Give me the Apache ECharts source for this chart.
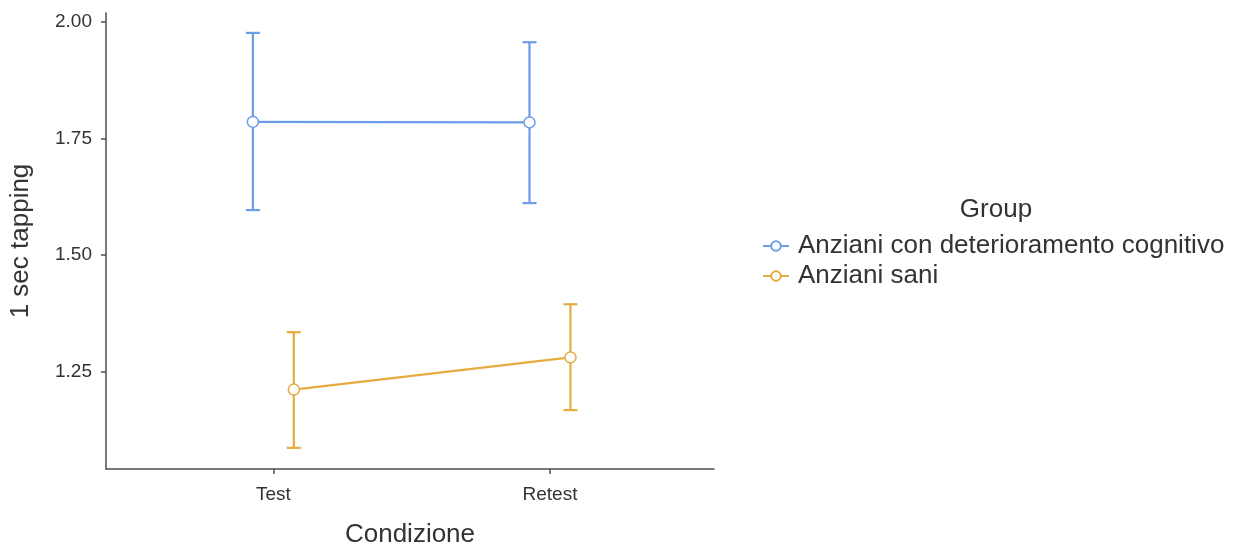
<!DOCTYPE html>
<html>
<head>
<meta charset="utf-8">
<script src="https://cdn.jsdelivr.net/npm/echarts@6/dist/echarts.min.js"></script>
<style>
  html, body { margin: 0; padding: 0; background: #fff; }
  #chart { width: 1242px; height: 544px; }
</style>
</head>
<body>
<div id="chart"></div>
<script>
// categories on the x axis
const conditions = ['Test', 'Retest'];
const groups = ['Anziani con deterioramento cognitivo', 'Anziani sani'];
const yTicks = [1.25, 1.5, 1.75, 2.0];

// means and CI bounds per group (Test, Retest)
const decMean = [1.785, 1.784];
const decLow = [1.596, 1.611];
const decHigh = [1.976, 1.956];

const saniMean = [1.211, 1.280];
const saniLow = [1.086, 1.167];
const saniHigh = [1.334, 1.394];

const colors = ['#6b9de8', '#e6ac40'];
const dodge = [-0.074, 0.074];
const font = '"Liberation Sans", Arial, sans-serif';

const chart = echarts.init(document.getElementById('chart'));

function pts(means, k) {
  return means.map((m, i) => [i + 1 + dodge[k], m]);
}
function bars(lows, highs, k) {
  return lows.map((l, i) => [i + 1 + dodge[k], l, highs[i]]);
}

// vertical CI line with a cap on each end
function errorBar(color) {
  return function (params, api) {
    const x = api.value(0);
    const lo = api.coord([x, api.value(1)]);
    const hi = api.coord([x, api.value(2)]);
    const half = 7;
    const style = { stroke: color, lineWidth: 2.2 };
    return {
      type: 'group',
      children: [
        { type: 'line', shape: { x1: lo[0], y1: lo[1], x2: hi[0], y2: hi[1] }, style },
        { type: 'line', shape: { x1: hi[0] - half, y1: hi[1], x2: hi[0] + half, y2: hi[1] }, style },
        { type: 'line', shape: { x1: lo[0] - half, y1: lo[1], x2: lo[0] + half, y2: lo[1] }, style }
      ]
    };
  };
}

const axisColor = '#4d4d4d';
const textColor = '#333';

chart.setOption({
  animation: false,
  textStyle: { fontFamily: font },
  title: {
    text: 'Group',
    left: 991,
    top: 192,
    textAlign: 'center',
    textStyle: { fontFamily: font, fontSize: 26, fontWeight: 'normal', color: textColor }
  },
  legend: {
    data: groups,
    orient: 'vertical',
    left: 757,
    top: 226,
    itemWidth: 26,
    itemHeight: 12,
    itemGap: 0,
    textStyle: { fontFamily: font, fontSize: 26, lineHeight: 30, color: textColor, padding: [0, 0, 0, 4] }
  },
  grid: { left: 106, right: 528, top: 13, bottom: 75, outerBoundsMode: 'none', containLabel: false },
  xAxis: {
    type: 'value',
    min: 0.395,
    max: 2.593,
    name: 'Condizione',
    nameLocation: 'middle',
    nameGap: 53,
    nameTextStyle: { fontFamily: font, fontSize: 26, color: textColor },
    splitLine: { show: false },
    axisLine: { lineStyle: { color: axisColor, width: 1.5 } },
    axisTick: { show: true, length: 5, customValues: [1, 2], lineStyle: { color: axisColor, width: 1.5 } },
    axisLabel: {
      customValues: [1, 2],
      formatter: v => conditions[Math.round(v) - 1] || '',
      margin: 16,
      fontSize: 19,
      color: textColor
    }
  },
  yAxis: {
    type: 'value',
    min: 1.0406,
    max: 2.0187,
    name: '1 sec tapping',
    nameLocation: 'middle',
    nameGap: 72,
    nameTextStyle: { fontFamily: font, fontSize: 26, color: textColor },
    splitLine: { show: false },
    axisLine: { show: true, lineStyle: { color: axisColor, width: 1.5 } },
    axisTick: { show: true, length: 5, customValues: yTicks, lineStyle: { color: axisColor, width: 1.5 } },
    axisLabel: {
      customValues: yTicks,
      formatter: v => v.toFixed(2),
      margin: 14,
      fontSize: 19,
      color: textColor
    }
  },
  series: [
    {
      type: 'line',
      name: groups[0],
      data: pts(decMean, 0),
      color: colors[0],
      symbol: 'circle',
      symbolSize: 11,
      lineStyle: { width: 2.2, color: colors[0] },
      itemStyle: { color: '#fff', borderColor: colors[0], borderWidth: 1.5 },
      z: 3
    },
    {
      type: 'line',
      name: groups[1],
      data: pts(saniMean, 1),
      color: colors[1],
      symbol: 'circle',
      symbolSize: 11,
      lineStyle: { width: 2.2, color: colors[1] },
      itemStyle: { color: '#fff', borderColor: colors[1], borderWidth: 1.5 },
      z: 3
    },
    {
      type: 'custom',
      name: 'ci-dec',
      renderItem: errorBar(colors[0]),
      data: bars(decLow, decHigh, 0),
      z: 1,
      silent: true
    },
    {
      type: 'custom',
      name: 'ci-sani',
      renderItem: errorBar(colors[1]),
      data: bars(saniLow, saniHigh, 1),
      z: 1,
      silent: true
    }
  ]
});
</script>
</body>
</html>
